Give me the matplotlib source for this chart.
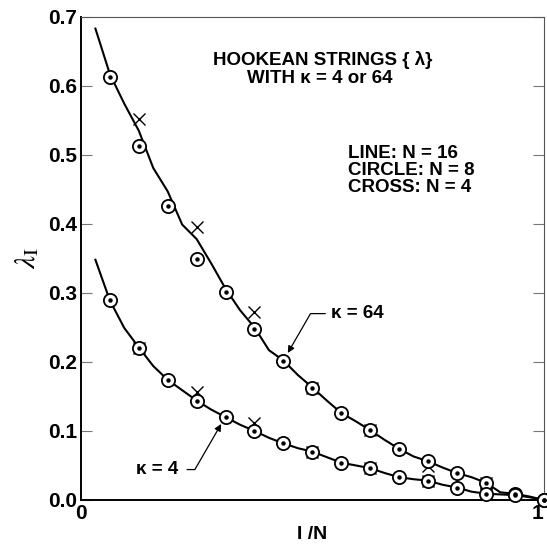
import matplotlib.pyplot as plt

plt.rcParams['font.family'] = ['Liberation Sans', 'DejaVu Sans']
plt.rcParams['mathtext.fontset'] = 'stix'

# N = 16 line, points at I/(2N)
line_x = [k / 32 for k in range(1, 33)]
line_k64 = [0.683, 0.617, 0.574, 0.535, 0.481, 0.447, 0.399, 0.378,
            0.343, 0.306, 0.275, 0.250, 0.217, 0.202, 0.181, 0.163,
            0.144, 0.126, 0.114, 0.101, 0.087, 0.074, 0.063, 0.056,
            0.047, 0.039, 0.033, 0.025, 0.011, 0.009, 0.005, 0.0]
line_k4 = [0.348, 0.289, 0.249, 0.221, 0.194, 0.174, 0.159, 0.144,
           0.131, 0.120, 0.109, 0.100, 0.090, 0.082, 0.075, 0.070,
           0.062, 0.054, 0.050, 0.046, 0.039, 0.033, 0.030, 0.028,
           0.022, 0.018, 0.012, 0.009, 0.008, 0.007, 0.004, 0.0]

# N = 8 circles
circ_x = [k / 16 for k in range(1, 17)]
circ_k64 = [0.613, 0.513, 0.426, 0.349, 0.302, 0.248, 0.202, 0.162,
            0.126, 0.101, 0.074, 0.056, 0.039, 0.025, 0.009, 0.0]
circ_k4 = [0.289, 0.220, 0.174, 0.144, 0.120, 0.0995, 0.082, 0.070,
           0.053, 0.046, 0.033, 0.028, 0.018, 0.009, 0.007, 0.0]

# N = 4 crosses
cross_x = [k / 8 for k in range(1, 8)]
cross_k64 = [0.552, 0.395, 0.272, 0.162, 0.101, 0.049, 0.025]
cross_k4 = [0.220, 0.157, 0.111, 0.070, 0.046, 0.028, 0.009]

fig = plt.figure(figsize=(5.47, 5.44), dpi=100)
ax = fig.add_axes([0.148, 0.081, 0.846, 0.888])

for ys in (line_k64, line_k4):
    ax.plot(line_x, ys, color='black', lw=1.5, zorder=2)
for ys in (cross_k64, cross_k4):
    ax.plot(cross_x, ys, ls='none', marker='x', ms=9, mew=1.0,
            color='black', zorder=3)
for ys in (circ_k64, circ_k4):
    ax.plot(circ_x, ys, ls='none', marker='o', ms=9.5, mew=1.3,
            mfc='white', mec='black', zorder=4, clip_on=False)
    ax.plot(circ_x, ys, ls='none', marker='o', ms=2.2, color='black',
            zorder=5, clip_on=False)

ax.set_xlim(0, 1)
ax.set_ylim(0, 0.7)
ax.set_xticks([0, 1])
ax.set_xticklabels(['0', '1'])
ax.set_yticks([0.0, 0.1, 0.2, 0.3, 0.4, 0.5, 0.6, 0.7])
ax.set_yticklabels(['0.0', '0.1', '0.2', '0.3', '0.4', '0.5', '0.6', '0.7'])
ax.tick_params(axis='x', length=0, pad=3, labelsize=15)
ax.tick_params(axis='y', direction='in', length=8, width=0.8, color='#777777',
               right=True, labelsize=15, pad=3)
for lab in ax.get_xticklabels() + ax.get_yticklabels():
    lab.set_fontweight('bold')
ax.get_xticklabels()[1].set_horizontalalignment('right')

for s in ('left', 'bottom'):
    ax.spines[s].set_linewidth(1.4)
for s in ('top', 'right'):
    ax.spines[s].set_linewidth(0.8)
    ax.spines[s].set_color('#555555')

ax.set_ylabel(r'$\lambda_{\mathrm{I}}$', fontsize=21, labelpad=5)
ax.set_xlabel('I /N', fontsize=14, fontweight='bold', labelpad=2)

ax.text(0.523, 0.637, 'HOOKEAN STRINGS { \u03bb}', ha='center', va='center',
        fontsize=13.5, fontweight='bold')
ax.text(0.517, 0.611, 'WITH \u03ba = 4 or 64', ha='center', va='center',
        fontsize=13.5, fontweight='bold')
ax.text(0.578, 0.4775, 'LINE: N = 16\nCIRCLE: N = 8\nCROSS: N = 4',
        ha='left', va='center', fontsize=13.5, fontweight='bold',
        linespacing=1.0)

ax.annotate('\u03ba = 64', xy=(0.447, 0.213), xytext=(0.54, 0.27),
            fontsize=13.5, fontweight='bold', va='center', ha='left',
            arrowprops=dict(arrowstyle='-|>', color='black', lw=0.9,
                            mutation_scale=10,
                            connectionstyle='angle,angleA=0,angleB=60,rad=0',
                            shrinkA=2, shrinkB=0))
ax.annotate('\u03ba = 4', xy=(0.303, 0.110), xytext=(0.12, 0.044),
            fontsize=13.5, fontweight='bold', va='center', ha='left',
            arrowprops=dict(arrowstyle='-|>', color='black', lw=0.9,
                            mutation_scale=10,
                            connectionstyle='angle,angleA=0,angleB=60,rad=0',
                            shrinkA=4, shrinkB=0))

fig.savefig('out.png', dpi=100)
